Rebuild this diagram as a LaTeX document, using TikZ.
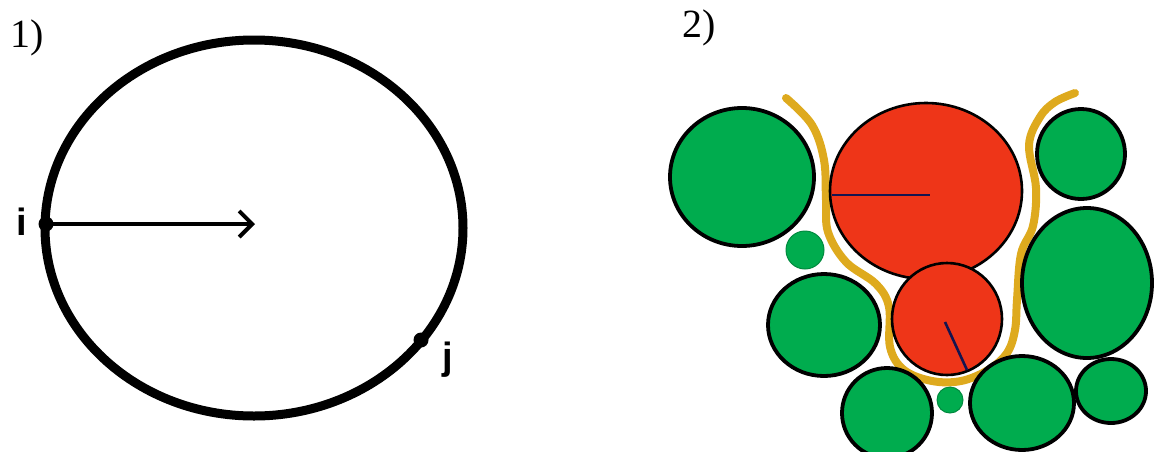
\documentclass[tikz,border=0pt]{standalone}
\usepackage{fontspec}
\setmainfont{Liberation Serif}
\newfontfamily\lsans{Liberation Sans}
\usetikzlibrary{arrows.meta}
\definecolor{cgreen}{RGB}{0,172,78}
\definecolor{cred}{RGB}{238,53,24}
\definecolor{cgold}{RGB}{222,170,30}
\definecolor{cnavy}{RGB}{20,20,80}
\tikzset{
  gball/.style={fill=cgreen,draw=black,line width=3.8pt},
  rball/.style={fill=cred,draw=black,line width=2.6pt},
  rline/.style={draw=cnavy,line width=2.6pt},
  panlab/.style={inner sep=0pt,font=\fontsize{40}{40}\selectfont},
  ptlab/.style={inner sep=0pt,font=\lsans\bfseries\fontsize{38}{38}\selectfont},
  ptdot/.style={circle,fill=black,inner sep=0pt,minimum size=15pt},
}
\begin{document}
\begin{tikzpicture}[x=1pt,y=-1pt]
\useasboundingbox (0,0) rectangle (1154,451);
% ---- panel 1
\node[panlab] (p1) at (27,38) {1)};
\draw[line width=9pt] (254,228) ellipse [x radius=209, y radius=188];
\node[ptdot] (pi) at (46,224) {};
\node[ptdot] (pj) at (421,340) {};
\coordinate (ctr) at (255,224);
\draw[line width=4pt,-{Straight Barb[length=13pt,width=26pt,line width=4pt]}] (pi.center) -- (ctr);
\node[ptlab] (li) at (22,222) {i};
\node[ptlab] (lj) at (448,360) {j};
% ---- panel 2
\node[panlab] (p2) at (699,28) {2)};
\draw[cgold,line width=8pt,line cap=round] plot[smooth,tension=0.6] coordinates {
 (786,98) (812,125) (824,160) (826,200) (828,232) (846,262) (876,284)
 (889,307) (890,347) (904,370) (932,381) (961,381) (988,370) (1007,353)
 (1015,330) (1017,300) (1021,254) (1033,226) (1036,188) (1029,145)
 (1040,117) (1055,102) (1075,93)};
\draw[gball] (742,177) ellipse [x radius=72, y radius=69];
\draw[gball] (1081,154) ellipse [x radius=44, y radius=45];
\draw[gball] (1087,283) ellipse [x radius=65, y radius=75];
\draw[gball,line width=1pt,draw=cgreen!80!black] (805,250) circle [radius=19];
\draw[gball] (824,325) ellipse [x radius=56, y radius=51];
\draw[gball] (887,413) ellipse [x radius=45, y radius=45];
\draw[gball,line width=1pt,draw=cgreen!80!black] (950,400) circle [radius=13];
\draw[gball] (1022,403) ellipse [x radius=52, y radius=47];
\draw[gball] (1111,391) ellipse [x radius=35, y radius=32];
\draw[rball] (926,191) ellipse [x radius=96, y radius=88];
\draw[rline] (832,195) -- (930,195);
\draw[rball] (947,319) ellipse [x radius=55, y radius=56];
\draw[rline] (945,322) -- (967,370);
\end{tikzpicture}
\end{document}
